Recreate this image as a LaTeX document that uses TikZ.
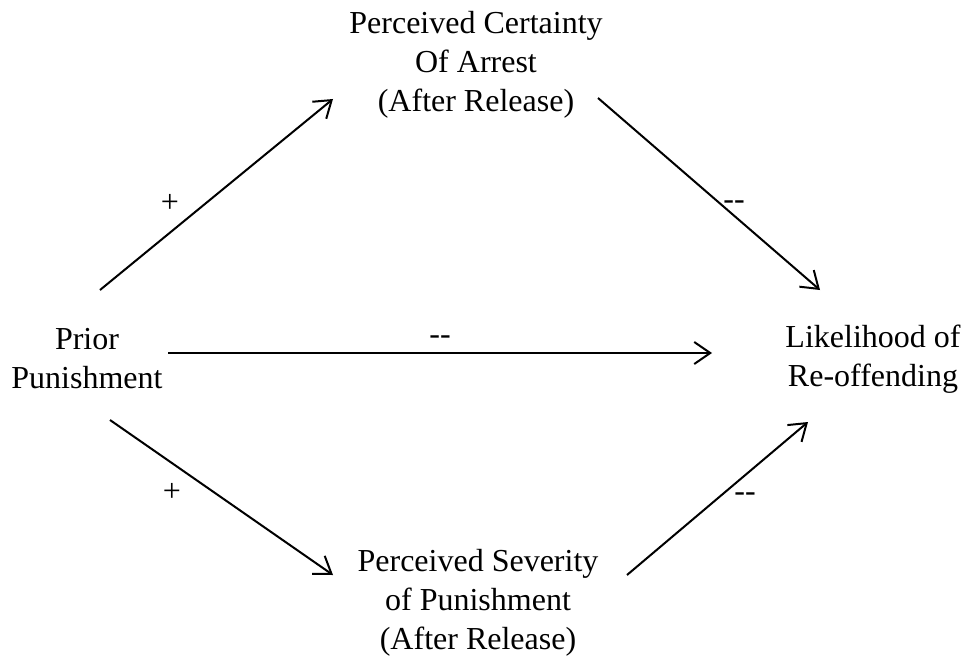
\documentclass[tikz,border=0pt]{standalone}
\usepackage{fontspec}
\setmainfont{Liberation Serif}
\usepackage{tikz}
\usetikzlibrary{arrows.meta,positioning}

\begin{document}
\begin{tikzpicture}[x=1pt, y=-1pt,
    font=\fontsize{32}{39}\selectfont,
    box/.style={align=center, inner sep=0pt},
    arr/.style={line width=2pt, -{Straight Barb[length=16pt,width=22pt,line width=2pt]}},
    sign/.style={inner sep=0pt}]
  \useasboundingbox (0,0) rectangle (971,666);
  % variables
  \node[box] (cert)   at (476,65)  {Perceived Certainty\\Of Arrest\\(After Release)};
  \node[box] (prior)  at (87,359)  {Prior\\Punishment};
  \node[box] (likely) at (873,359) {Likelihood of\\Re-offending};
  \node[box] (sev)    at (478,603) {Perceived Severity\\of Punishment\\(After Release)};
  % paths
  \draw[arr] ([shift={(13,-69)}]prior.center) -- ([shift={(-143,34)}]cert.center);
  \draw[arr] ([shift={(122,33)}]cert.center) -- ([shift={(-53,-69)}]likely.center);
  \draw[arr] ([shift={(81,-6)}]prior.center) -- ([shift={(-161,-6)}]likely.center);
  \draw[arr] ([shift={(23,61)}]prior.center) -- ([shift={(-145,-28)}]sev.center);
  \draw[arr] ([shift={(149,-28)}]sev.center) -- ([shift={(-65,63)}]likely.center);
  % signs
  \node[sign] (s1) at (170,203) {+};
  \node[sign] (s2) at (734,205) {-{}-};
  \node[sign] (s3) at (440,340) {-{}-};
  \node[sign] (s4) at (172,492) {+};
  \node[sign] (s5) at (745,497) {-{}-};
\end{tikzpicture}
\end{document}
